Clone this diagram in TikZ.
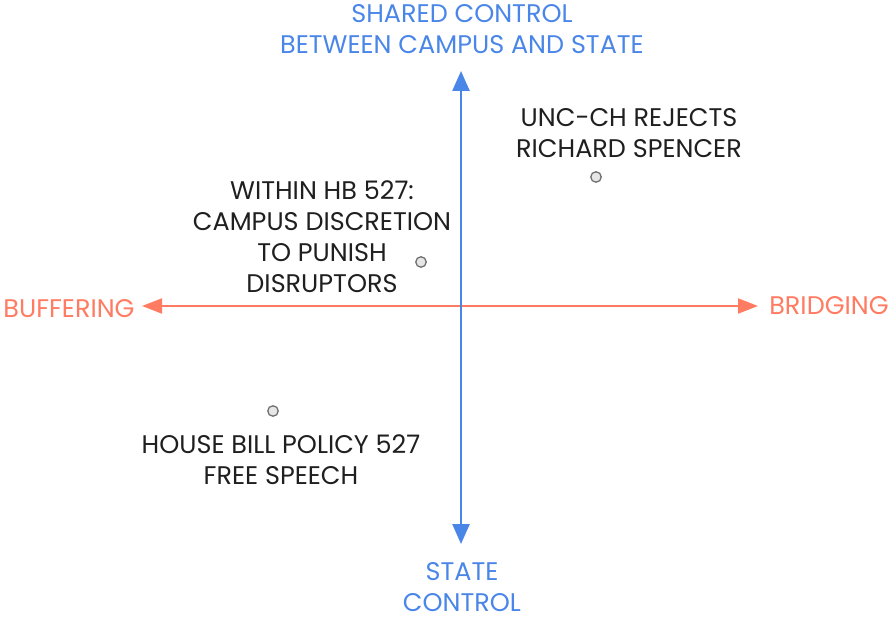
\documentclass[tikz,border=0pt]{standalone}
\usepackage{fontspec}
\setmainfont{Poppins}
\usetikzlibrary{arrows.meta}
\definecolor{axblue}{HTML}{4A86E8}
\definecolor{axorange}{HTML}{FF7B61}
\definecolor{txt}{HTML}{1F1F1F}
\definecolor{dotline}{HTML}{707070}
\definecolor{dotfill}{HTML}{E6E6E6}
\begin{document}
\begin{tikzpicture}[x=1pt,y=-1pt,
  lbl/.style={align=center,inner sep=0pt,font=\fontsize{25.5}{31}\selectfont},
  bluelbl/.style={lbl,text=axblue},
  orangelbl/.style={lbl,text=axorange},
  blacklbl/.style={lbl,text=txt},
  pt/.style={circle,draw=dotline,fill=dotfill,line width=1.3pt,minimum size=10.5pt,inner sep=0pt},
  vaxis/.style={draw=axblue,line width=2.6pt,-{Triangle[length=20pt,width=17pt]}},
  haxis/.style={draw=axorange,line width=2pt,-{Triangle[length=20pt,width=15pt]}}
]
\useasboundingbox (0,0) rectangle (889,617);
\coordinate (center) at (461,306);
\coordinate (top) at (461,71);
\coordinate (bottom) at (461,544);
\coordinate (left) at (142,306);
\coordinate (right) at (758,306);
\draw[haxis] (center) -- (left);
\draw[haxis] (center) -- (right);
\draw[vaxis] (center) -- (top);
\draw[vaxis] (center) -- (bottom);

\node[bluelbl] (shared) at (462,29) {SHARED CONTROL\\BETWEEN CAMPUS AND STATE};
\node[bluelbl] (state) at (462,587) {STATE\\CONTROL};
\node[orangelbl] (buff) at (69,309) {BUFFERING};
\node[orangelbl] (bridge) at (829,306) {BRIDGING};

\node[blacklbl] (unc) at (629,133) {UNC-CH REJECTS\\RICHARD SPENCER};
\node[pt] (p1) at (596,177) {};
\node[blacklbl] (within) at (322,237) {WITHIN HB 527:\\CAMPUS DISCRETION\\TO PUNISH\\DISRUPTORS};
\node[pt] (p2) at (421,262) {};
\node[pt] (p3) at (273,411) {};
\node[blacklbl] (house) at (281,460) {HOUSE BILL POLICY 527\\FREE SPEECH};
\end{tikzpicture}
\end{document}
